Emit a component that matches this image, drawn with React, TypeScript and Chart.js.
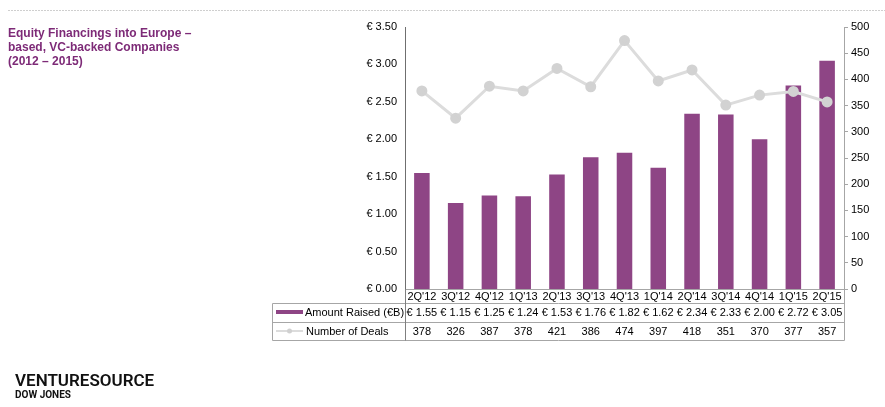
import React, { useEffect, useRef } from "react";
import { Chart, registerables } from "chart.js";

Chart.register(...registerables);

const categories = ["2Q'12", "3Q'12", "4Q'12", "1Q'13", "2Q'13", "3Q'13", "4Q'13", "1Q'14", "2Q'14", "3Q'14", "4Q'14", "1Q'15", "2Q'15"];
const amountRaised = [1.55, 1.15, 1.25, 1.24, 1.53, 1.76, 1.82, 1.62, 2.34, 2.33, 2.0, 2.72, 3.05];
const numberOfDeals = [378, 326, 387, 378, 421, 386, 474, 397, 418, 351, 370, 377, 357];
const titleLines = ["Equity Financings into Europe \u2013", "based, VC-backed Companies", "(2012 \u2013 2015)"];
const seriesNames = ["Amount Raised (\u20acB)", "Number of Deals"];

const PURPLE = "#8e4585";
const LINEGRAY = "#dcdcdc";
const FONT = "'Liberation Sans', Arial, sans-serif";

const W = 885;
const H = 407;
const AREA_LEFT = 405;
const AREA_RIGHT = 844;
const AREA_TOP = 27;
const AREA_BOTTOM = 289;

const decorPlugin = {
  id: "decor",
  afterDraw(chart: any) {
    const ctx = chart.ctx as CanvasRenderingContext2D;
    const xs = chart.scales.x;
    ctx.save();
    // top rule
    ctx.strokeStyle = "#cfcfcf";
    ctx.lineWidth = 1;
    ctx.setLineDash([2, 1]);
    ctx.beginPath();
    ctx.moveTo(8, 10.5);
    ctx.lineTo(W, 10.5);
    ctx.stroke();
    ctx.setLineDash([]);

    // title
    ctx.fillStyle = "#7d2a77";
    ctx.font = `bold 12px ${FONT}`;
    ctx.textBaseline = "middle";
    ctx.textAlign = "left";
    titleLines.forEach((t, i) => ctx.fillText(t, 8, 34 + i * 14));

    // table lines
    const rowLines = [303.5, 322.5, 340.5];
    const tableLeft = 272.5;
    ctx.strokeStyle = "#a6a6a6";
    ctx.lineWidth = 1;
    ctx.beginPath();
    rowLines.forEach((y) => {
      ctx.moveTo(tableLeft, y);
      ctx.lineTo(AREA_RIGHT + 0.5, y);
    });
    ctx.moveTo(tableLeft, 303.5);
    ctx.lineTo(tableLeft, 340.5);
    ctx.moveTo(AREA_RIGHT + 0.5, AREA_BOTTOM);
    ctx.lineTo(AREA_RIGHT + 0.5, 340.5);
    ctx.stroke();
    ctx.strokeStyle = "#7f7f7f";
    ctx.beginPath();
    ctx.moveTo(AREA_LEFT + 0.5, AREA_BOTTOM);
    ctx.lineTo(AREA_LEFT + 0.5, 340.5);
    ctx.stroke();

    // legend keys
    ctx.fillStyle = PURPLE;
    ctx.fillRect(276, 310, 27, 4);
    ctx.strokeStyle = LINEGRAY;
    ctx.lineWidth = 2;
    ctx.beginPath();
    ctx.moveTo(276, 331);
    ctx.lineTo(303, 331);
    ctx.stroke();
    ctx.fillStyle = "#d0d0d0";
    ctx.beginPath();
    ctx.arc(289.5, 331, 2.5, 0, Math.PI * 2);
    ctx.fill();

    ctx.fillStyle = "#000";
    ctx.font = `11px ${FONT}`;
    ctx.textAlign = "left";
    ctx.fillText(seriesNames[0], 305, 313);
    ctx.fillText(seriesNames[1], 306, 332);

    ctx.textAlign = "center";
    categories.forEach((c, i) => {
      const x = xs.getPixelForValue(i);
      ctx.fillText("\u20ac " + amountRaised[i].toFixed(2), x, 313);
      ctx.fillText(String(numberOfDeals[i]), x, 332);
    });

    // logo
    ctx.fillStyle = "#111";
    ctx.textAlign = "left";
    ctx.textBaseline = "alphabetic";
    ctx.font = `600 17px Roboto, ${FONT}`;
    ctx.fillText("VENTURESOURCE", 15, 386, 140);
    ctx.font = `bold 10px Roboto, ${FONT}`;
    ctx.fillText("DOW JONES", 15, 398, 58);
    ctx.restore();
  },
};

export default function App() {
  const ref = useRef<HTMLCanvasElement | null>(null);
  useEffect(() => {
    if (!ref.current) return;
    const chart = new Chart(ref.current, {
      type: "bar",
      data: {
        labels: categories,
        datasets: [
          {
            type: "line",
            label: seriesNames[1],
            data: numberOfDeals,
            yAxisID: "y1",
            borderColor: LINEGRAY,
            borderWidth: 3,
            pointRadius: 4,
            pointBackgroundColor: "#d2d2d2",
            pointBorderColor: "#d2d2d2",
            tension: 0,
            order: 0,
          } as any,
          {
            type: "bar",
            label: seriesNames[0],
            data: amountRaised,
            yAxisID: "y",
            backgroundColor: PURPLE,
            barPercentage: 0.46,
            categoryPercentage: 1,
            order: 1,
          },
        ],
      },
      options: {
        responsive: false,
        maintainAspectRatio: false,
        animation: false,
        layout: { padding: { top: AREA_TOP, bottom: 0, left: 0, right: 0 } },
        plugins: { legend: { display: false }, tooltip: { enabled: false } },
        scales: {
          x: {
            grid: { display: false, drawTicks: false },
            border: { display: true, color: "#a6a6a6" },
            ticks: { color: "#000", font: { size: 11, family: FONT }, padding: 1, maxRotation: 0, autoSkip: false },
            afterFit: (s: any) => {
              s.height = H - AREA_BOTTOM;
            },
          },
          y: {
            position: "left",
            min: 0,
            max: 3.5,
            grid: { display: false, drawTicks: false },
            border: { display: true, color: "#6f6f6f", width: 1 },
            ticks: {
              stepSize: 0.5,
              color: "#000",
              font: { size: 11, family: FONT },
              padding: 8,
              callback: (v: any) => "\u20ac " + Number(v).toFixed(2),
            },
            afterFit: (s: any) => {
              s.width = AREA_LEFT;
            },
          },
          y1: {
            position: "right",
            min: 0,
            max: 500,
            grid: { display: true, drawOnChartArea: false, drawTicks: true, tickLength: 4, color: "#a6a6a6" },
            border: { display: true, color: "#a6a6a6" },
            ticks: { stepSize: 50, color: "#000", font: { size: 11, family: FONT }, padding: 3 },
            afterFit: (s: any) => {
              s.width = W - AREA_RIGHT;
            },
          },
        },
      },
      plugins: [decorPlugin],
    });
    return () => chart.destroy();
  }, []);
  return (
    <div style={{ position: "absolute", left: 0, top: 0, width: W, height: H, background: "#fff" }}>
      <canvas ref={ref} width={W} height={H} style={{ width: W, height: H, display: "block" }} />
    </div>
  );
}
